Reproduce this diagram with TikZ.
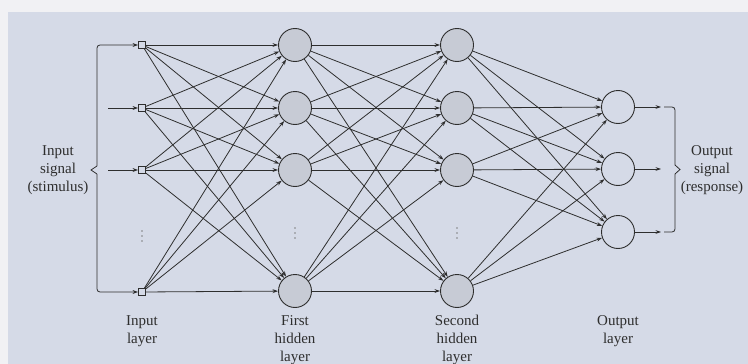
\documentclass[tikz,border=0pt]{standalone}
\usepackage{fontspec}
\setmainfont{Liberation Serif}
\usetikzlibrary{arrows.meta}
\definecolor{bg}{HTML}{D5DAE7}
\definecolor{topstrip}{HTML}{F1F1F4}
\definecolor{ink}{HTML}{2E2E2E}
\definecolor{cellfill}{HTML}{C7CBD5}
\begin{document}
\begin{tikzpicture}[x=1pt,y=-1pt,
  arr/.style={draw=ink, line width=0.8pt, -{Stealth[length=5.5pt,width=3.8pt]}},
  plain/.style={draw=ink, line width=0.8pt},
  neuron/.style={circle, draw=ink, line width=0.9pt, minimum size=33pt, inner sep=0pt},
  hid/.style={neuron, fill=cellfill},
  outn/.style={neuron, fill=bg},
  inp/.style={rectangle, draw=ink, line width=0.8pt, minimum size=7pt, inner sep=0pt, fill=bg},
  lab/.style={align=center, inner sep=0pt, text=black!82, font=\fontsize{15}{18}\selectfont},
  dot/.style={circle, fill=ink!60, inner sep=0pt, minimum size=1.6pt}
]
\useasboundingbox (0,0) rectangle (748,364);
\fill[topstrip] (0,0) rectangle (748,364);
\fill[bg] (8,12) rectangle (748,364);

% input layer
\node[inp] (i1) at (142,45) {};
\node[inp] (i2) at (142,108) {};
\node[inp] (i3) at (142,170) {};
\node[inp] (i4) at (142,292) {};
% first hidden
\node[hid] (a1) at (295,45) {};
\node[hid] (a2) at (295,108) {};
\node[hid] (a3) at (295,170) {};
\node[hid] (a4) at (295,291) {};
% second hidden
\node[hid] (b1) at (457,45) {};
\node[hid] (b2) at (457,108) {};
\node[hid] (b3) at (457,170) {};
\node[hid] (b4) at (457,291) {};
% output
\node[outn] (o1) at (618,107) {};
\node[outn] (o2) at (618,169) {};
\node[outn] (o3) at (618,232) {};

% vertical dots
\foreach \x/\y in {142/236, 295/233, 457/233}{
  \node[dot] at (\x,\y-5) {};
  \node[dot] at (\x,\y) {};
  \node[dot] at (\x,\y+5) {};
}

% connections
\foreach \i in {1,...,4}{
  \foreach \j in {1,...,4}{
    \draw[arr] (i\i) -- (a\j);
    \draw[arr] (a\i) -- (b\j);
  }
  \foreach \j in {1,...,3}{
    \draw[arr] (b\i) -- (o\j);
  }
}

% input brace and input arrows
\coordinate (s2) at (108,108);
\coordinate (s3) at (108,170);
\draw[arr, rounded corners=3pt] (97,166) -- (97,45) -- (i1);
\draw[arr, rounded corners=3pt] (97,174) -- (97,292) -- (i4);
\draw[plain] (97,166) -- (91,170) -- (97,174);
\draw[arr] (s2) -- (i2);
\draw[arr] (s3) -- (i3);

% output arrows and brace
\coordinate (e1) at (661,107);
\coordinate (e2) at (661,169);
\coordinate (e3) at (661,232);
\draw[arr] (o1) -- (e1);
\draw[arr] (o2) -- (e2);
\draw[arr] (o3) -- (e3);
\draw[plain, rounded corners=3pt] (664,107) -- (675,107) -- (675,165);
\draw[plain] (675,165) -- (680,169.5) -- (675,174);
\draw[plain, rounded corners=3pt] (675,174) -- (675,232) -- (664,232);

% labels
\node[lab] (lin) at (58,170) {Input\\signal\\(stimulus)};
\node[lab] (lout) at (712,170) {Output\\signal\\(response)};
\node[lab, anchor=north] (li) at (142,315) {Input\\layer};
\node[lab, anchor=north] (la) at (295,315) {First\\hidden\\layer};
\node[lab, anchor=north] (lb) at (457,315) {Second\\hidden\\layer};
\node[lab, anchor=north] (lo) at (618,315) {Output\\layer};
\end{tikzpicture}
\end{document}
